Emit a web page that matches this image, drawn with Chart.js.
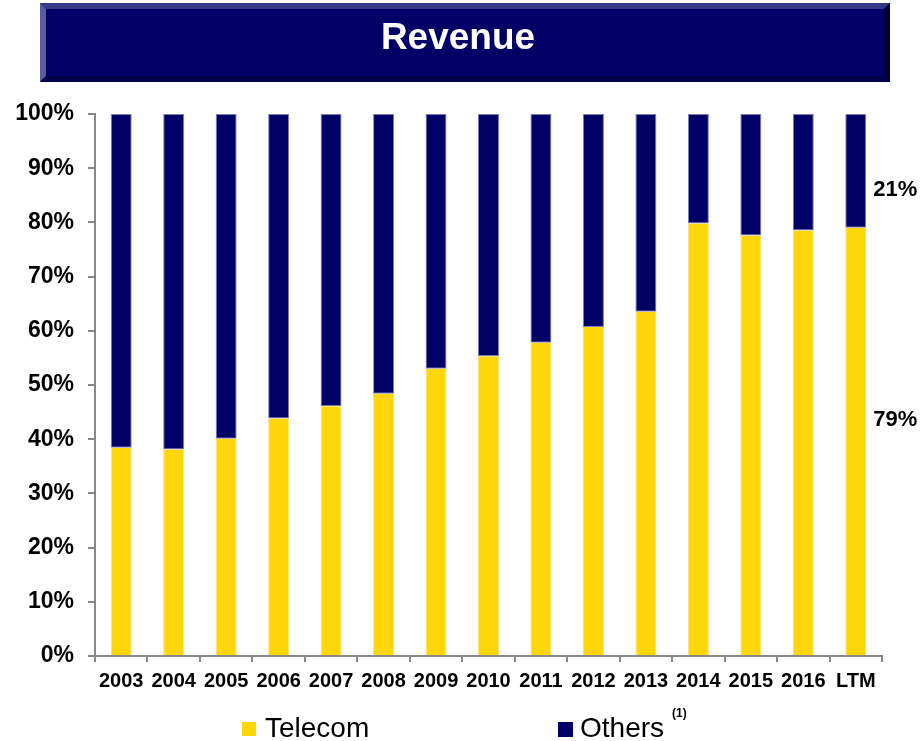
<!DOCTYPE html>
<html>
<head>
<meta charset="utf-8">
<script src="https://cdn.jsdelivr.net/npm/chart.js@4.4.1/dist/chart.umd.min.js"></script>
<style>
  html, body { margin: 0; padding: 0; background: #fff; }
  #wrap { width: 921px; height: 741px; position: relative; }
</style>
</head>
<body>
<div id="wrap"><canvas id="chart" width="921" height="741"></canvas></div>
<script>
const years = ["2003", "2004", "2005", "2006", "2007", "2008", "2009", "2010",
  "2011", "2012", "2013", "2014", "2015", "2016", "LTM"];
const telecom = [38.4, 38.1, 40.1, 43.8, 46.1, 48.4, 53.0, 55.3, 57.8, 60.7, 63.5, 79.8, 77.6, 78.5, 79];
const others = telecom.map(v => Math.round((100 - v) * 10) / 10);
const yTicks = [0, 10, 20, 30, 40, 50, 60, 70, 80, 90, 100];

const NAVY = "#000066";
const GOLD = "#FFD60A";
const FONT = "Arial, 'Liberation Sans', sans-serif";

// banner with bevelled edges behind the title
const banner = {
  id: "banner",
  beforeDraw(chart) {
    const ctx = chart.ctx;
    const x0 = 40, y0 = 3, x1 = 890, y1 = 82, b = 6;
    ctx.save();
    ctx.fillStyle = NAVY;
    ctx.fillRect(x0, y0, x1 - x0, y1 - y0);
    const side = (pts, color) => {
      ctx.beginPath();
      ctx.moveTo(pts[0][0], pts[0][1]);
      pts.slice(1).forEach(p => ctx.lineTo(p[0], p[1]));
      ctx.closePath();
      ctx.fillStyle = color;
      ctx.fill();
    };
    side([[x0, y0], [x1, y0], [x1 - b, y0 + b], [x0 + b, y0 + b]], "#383888");
    side([[x0, y0], [x0 + b, y0 + b], [x0 + b, y1 - b], [x0, y1]], "#5a5a9e");
    side([[x0, y1], [x0 + b, y1 - b], [x1 - b, y1 - b], [x1, y1]], "#00004a");
    side([[x1, y0], [x1, y1], [x1 - b, y1 - b], [x1 - b, y0 + b]], "#000038");
    ctx.fillStyle = "#ffffff";
    ctx.font = "bold 37px " + FONT;
    ctx.textAlign = "center";
    ctx.textBaseline = "middle";
    ctx.fillText("Revenue", 458, 39);
    ctx.restore();
  }
};

// share labels beside the last bar, plus the legend along the bottom
const extras = {
  id: "extras",
  afterDraw(chart) {
    const ctx = chart.ctx;
    const y = chart.scales.y;
    const last = years.length - 1;
    const bar = chart.getDatasetMeta(0).data[last];
    const lx = bar.x + bar.width / 2 + 7;
    ctx.save();
    ctx.fillStyle = "#000";
    ctx.font = "bold 22px " + FONT;
    ctx.textAlign = "left";
    ctx.textBaseline = "middle";
    ctx.fillText(telecom[last] + "%", lx, y.getPixelForValue(telecom[last] * 0.553) + 1);
    ctx.fillText(others[last] + "%", lx, y.getPixelForValue(telecom[last] + others[last] * 0.34) + 1);

    ctx.textBaseline = "alphabetic";
    ctx.fillStyle = GOLD;
    ctx.fillRect(242, 722, 14, 14);
    ctx.fillStyle = NAVY;
    ctx.fillRect(558, 722, 15, 15);
    ctx.fillStyle = "#000";
    ctx.font = "28px " + FONT;
    ctx.fillText("Telecom", 265, 737);
    ctx.fillText("Others", 580, 737);
    ctx.font = "bold 12px " + FONT;
    ctx.fillText("(1)", 672, 717);
    ctx.restore();
  }
};

new Chart(document.getElementById("chart"), {
  type: "bar",
  plugins: [banner, extras],
  data: {
    labels: years,
    datasets: [
      {
        label: "Telecom",
        data: telecom,
        backgroundColor: GOLD,
        borderColor: "#f6e27a",
        borderWidth: { left: 1, right: 1 },
        borderSkipped: false
      },
      {
        label: "Others",
        data: others,
        backgroundColor: NAVY,
        borderColor: "#7c7cb8",
        borderWidth: 1,
        borderSkipped: false
      }
    ]
  },
  options: {
    animation: false,
    responsive: false,
    layout: { padding: { top: 114, right: 39, bottom: 0, left: 0 } },
    plugins: {
      legend: { display: false },
      tooltip: { enabled: false }
    },
    datasets: {
      bar: { barPercentage: 0.4, categoryPercentage: 1 }
    },
    scales: {
      x: {
        stacked: true,
        afterFit: s => { s.height = 85; },
        border: { color: "#888888", width: 2 },
        grid: {
          offset: true,
          drawOnChartArea: false,
          drawTicks: true,
          tickLength: 6,
          color: "#888888",
          lineWidth: 2
        },
        ticks: {
          color: "#000",
          font: { family: FONT, size: 20, weight: "bold" },
          maxRotation: 0,
          autoSkip: false,
          padding: 7
        }
      },
      y: {
        stacked: true,
        min: 0,
        max: 100,
        afterFit: s => { s.width = 95; },
        afterBuildTicks: s => { s.ticks = yTicks.map(v => ({ value: v })); },
        border: { color: "#888888", width: 2 },
        grid: {
          drawOnChartArea: false,
          drawTicks: true,
          tickLength: 7,
          color: "#888888",
          lineWidth: 2
        },
        ticks: {
          color: "#000",
          font: { family: FONT, size: 23, weight: "bold" },
          padding: 14,
          callback: v => v + "%"
        }
      }
    }
  }
});
</script>
</body>
</html>
